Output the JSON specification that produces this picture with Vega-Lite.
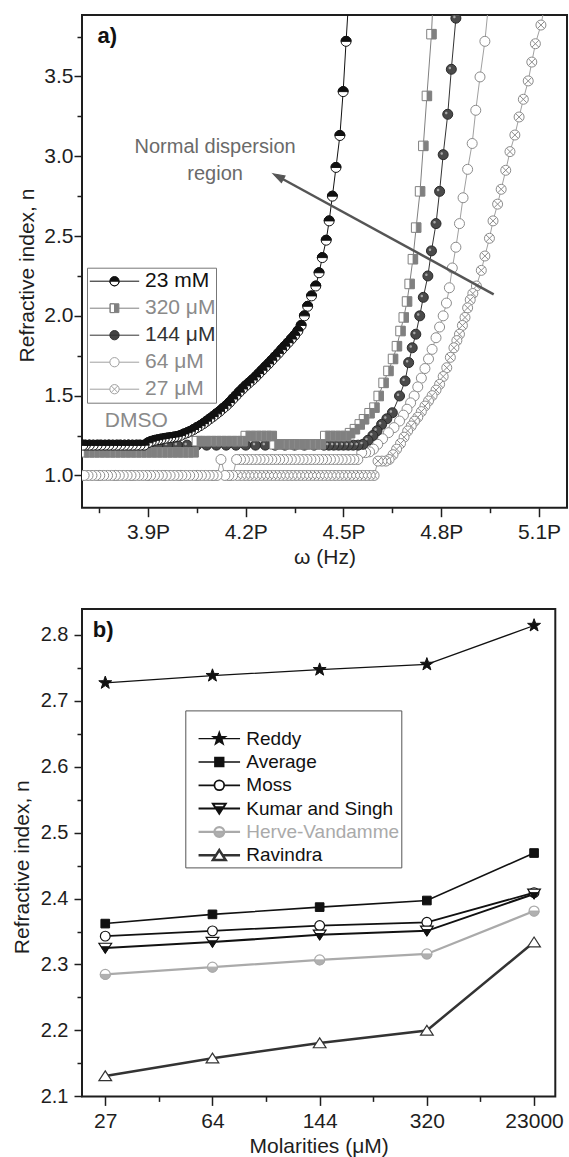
{
"$schema":"https://vega.github.io/schema/vega-lite/v6.json",
"background":"white",
"padding":{"left":10,"top":14,"right":0,"bottom":0},
"autosize":{"type":"pad"},
"config":{
 "font":"Liberation Sans",
 "view":{"stroke":"#1e1e1e","strokeWidth":2},
 "axis":{"labelFont":"Liberation Sans","titleFont":"Liberation Sans","labelFontSize":21,"titleFontSize":21,"titleFontWeight":"normal","labelColor":"#1e1e1e","titleColor":"#1e1e1e","tickColor":"#1e1e1e","tickWidth":1.5,"domain":false,"grid":false},
 "legend":{"labelFont":"Liberation Sans","titleFont":"Liberation Sans"}
},
"datasets":{
"A":[
{"s":"23 mM","w":4.518,"n":4.05},{"s":"23 mM","w":4.508,"n":3.72},{"s":"23 mM","w":4.499,"n":3.405},{"s":"23 mM","w":4.489,"n":3.13},{"s":"23 mM","w":4.477,"n":2.93},{"s":"23 mM","w":4.466,"n":2.75},{"s":"23 mM","w":4.456,"n":2.595},{"s":"23 mM","w":4.447,"n":2.474},{"s":"23 mM","w":4.435,"n":2.365},{"s":"23 mM","w":4.425,"n":2.27},{"s":"23 mM","w":4.415,"n":2.187},{"s":"23 mM","w":4.402,"n":2.125},{"s":"23 mM","w":4.39,"n":2.06},{"s":"23 mM","w":4.38,"n":2.0},{"s":"23 mM","w":4.37,"n":1.94},{"s":"23 mM","w":4.36,"n":1.905},{"s":"23 mM","w":4.35,"n":1.878},{"s":"23 mM","w":4.34,"n":1.855},{"s":"23 mM","w":4.33,"n":1.832},{"s":"23 mM","w":4.32,"n":1.81},{"s":"23 mM","w":4.31,"n":1.788},{"s":"23 mM","w":4.3,"n":1.765},{"s":"23 mM","w":4.29,"n":1.744},{"s":"23 mM","w":4.28,"n":1.722},{"s":"23 mM","w":4.27,"n":1.7},{"s":"23 mM","w":4.26,"n":1.68},{"s":"23 mM","w":4.25,"n":1.659},{"s":"23 mM","w":4.24,"n":1.638},{"s":"23 mM","w":4.23,"n":1.617},{"s":"23 mM","w":4.22,"n":1.598},{"s":"23 mM","w":4.21,"n":1.58},{"s":"23 mM","w":4.2,"n":1.562},{"s":"23 mM","w":4.19,"n":1.542},{"s":"23 mM","w":4.18,"n":1.522},{"s":"23 mM","w":4.17,"n":1.5},{"s":"23 mM","w":4.16,"n":1.479},{"s":"23 mM","w":4.15,"n":1.457},{"s":"23 mM","w":4.14,"n":1.437},{"s":"23 mM","w":4.13,"n":1.42},{"s":"23 mM","w":4.12,"n":1.402},{"s":"23 mM","w":4.11,"n":1.386},{"s":"23 mM","w":4.1,"n":1.37},{"s":"23 mM","w":4.09,"n":1.355},{"s":"23 mM","w":4.08,"n":1.34},{"s":"23 mM","w":4.07,"n":1.325},{"s":"23 mM","w":4.06,"n":1.312},{"s":"23 mM","w":4.05,"n":1.3},{"s":"23 mM","w":4.04,"n":1.288},{"s":"23 mM","w":4.03,"n":1.277},{"s":"23 mM","w":4.02,"n":1.268},{"s":"23 mM","w":4.01,"n":1.26},{"s":"23 mM","w":4.0,"n":1.251},{"s":"23 mM","w":3.99,"n":1.245},{"s":"23 mM","w":3.98,"n":1.241},{"s":"23 mM","w":3.97,"n":1.238},{"s":"23 mM","w":3.96,"n":1.235},{"s":"23 mM","w":3.95,"n":1.232},{"s":"23 mM","w":3.94,"n":1.228},{"s":"23 mM","w":3.93,"n":1.224},{"s":"23 mM","w":3.92,"n":1.22},{"s":"23 mM","w":3.91,"n":1.214},{"s":"23 mM","w":3.9,"n":1.205},{"s":"23 mM","w":3.888,"n":1.19},{"s":"23 mM","w":3.876,"n":1.19},{"s":"23 mM","w":3.864,"n":1.19},{"s":"23 mM","w":3.852,"n":1.19},{"s":"23 mM","w":3.84,"n":1.19},{"s":"23 mM","w":3.828,"n":1.19},{"s":"23 mM","w":3.816,"n":1.19},{"s":"23 mM","w":3.804,"n":1.19},{"s":"23 mM","w":3.792,"n":1.19},{"s":"23 mM","w":3.78,"n":1.19},{"s":"23 mM","w":3.768,"n":1.19},{"s":"23 mM","w":3.756,"n":1.19},{"s":"23 mM","w":3.744,"n":1.19},{"s":"23 mM","w":3.732,"n":1.19},{"s":"23 mM","w":3.72,"n":1.19},{"s":"23 mM","w":3.708,"n":1.19},{"s":"23 mM","w":3.7,"n":1.19},
{"s":"320 μM","w":4.78,"n":4.2},{"s":"320 μM","w":4.77,"n":3.765},{"s":"320 μM","w":4.756,"n":3.378},{"s":"320 μM","w":4.745,"n":3.065},{"s":"320 μM","w":4.735,"n":2.78},{"s":"320 μM","w":4.723,"n":2.553},{"s":"320 μM","w":4.713,"n":2.355},{"s":"320 μM","w":4.703,"n":2.2},{"s":"320 μM","w":4.695,"n":2.09},{"s":"320 μM","w":4.685,"n":1.99},{"s":"320 μM","w":4.675,"n":1.905},{"s":"320 μM","w":4.664,"n":1.81},{"s":"320 μM","w":4.652,"n":1.73},{"s":"320 μM","w":4.638,"n":1.655},{"s":"320 μM","w":4.623,"n":1.58},{"s":"320 μM","w":4.608,"n":1.498},{"s":"320 μM","w":4.595,"n":1.425},{"s":"320 μM","w":4.58,"n":1.39},{"s":"320 μM","w":4.563,"n":1.352},{"s":"320 μM","w":4.55,"n":1.32},{"s":"320 μM","w":4.535,"n":1.29},{"s":"320 μM","w":4.52,"n":1.265},
{"s":"320 μM","w":4.508,"n":1.247},{"s":"320 μM","w":4.492,"n":1.247},{"s":"320 μM","w":4.476,"n":1.247},{"s":"320 μM","w":4.46,"n":1.247},{"s":"320 μM","w":4.444,"n":1.247},
{"s":"320 μM","w":4.43,"n":1.195},{"s":"320 μM","w":4.414,"n":1.195},{"s":"320 μM","w":4.398,"n":1.195},{"s":"320 μM","w":4.382,"n":1.195},{"s":"320 μM","w":4.366,"n":1.195},{"s":"320 μM","w":4.35,"n":1.195},{"s":"320 μM","w":4.334,"n":1.195},{"s":"320 μM","w":4.318,"n":1.195},{"s":"320 μM","w":4.302,"n":1.195},{"s":"320 μM","w":4.288,"n":1.195},
{"s":"320 μM","w":4.28,"n":1.247},{"s":"320 μM","w":4.264,"n":1.247},{"s":"320 μM","w":4.248,"n":1.247},{"s":"320 μM","w":4.232,"n":1.247},{"s":"320 μM","w":4.216,"n":1.247},{"s":"320 μM","w":4.2,"n":1.247},
{"s":"320 μM","w":4.19,"n":1.215},{"s":"320 μM","w":4.174,"n":1.215},{"s":"320 μM","w":4.158,"n":1.215},{"s":"320 μM","w":4.142,"n":1.215},{"s":"320 μM","w":4.126,"n":1.215},{"s":"320 μM","w":4.11,"n":1.215},{"s":"320 μM","w":4.094,"n":1.215},{"s":"320 μM","w":4.078,"n":1.215},{"s":"320 μM","w":4.062,"n":1.215},{"s":"320 μM","w":4.05,"n":1.215},
{"s":"320 μM","w":4.04,"n":1.145},{"s":"320 μM","w":4.024,"n":1.145},{"s":"320 μM","w":4.008,"n":1.145},{"s":"320 μM","w":3.992,"n":1.145},{"s":"320 μM","w":3.976,"n":1.145},{"s":"320 μM","w":3.96,"n":1.145},{"s":"320 μM","w":3.944,"n":1.145},{"s":"320 μM","w":3.928,"n":1.145},{"s":"320 μM","w":3.912,"n":1.145},{"s":"320 μM","w":3.896,"n":1.145},{"s":"320 μM","w":3.88,"n":1.145},{"s":"320 μM","w":3.864,"n":1.145},{"s":"320 μM","w":3.848,"n":1.145},{"s":"320 μM","w":3.832,"n":1.145},{"s":"320 μM","w":3.816,"n":1.145},{"s":"320 μM","w":3.8,"n":1.145},{"s":"320 μM","w":3.784,"n":1.145},{"s":"320 μM","w":3.768,"n":1.145},{"s":"320 μM","w":3.752,"n":1.145},{"s":"320 μM","w":3.736,"n":1.145},{"s":"320 μM","w":3.72,"n":1.145},{"s":"320 μM","w":3.704,"n":1.145},
{"s":"144 μM","w":4.855,"n":4.2},{"s":"144 μM","w":4.845,"n":3.865},{"s":"144 μM","w":4.831,"n":3.545},{"s":"144 μM","w":4.82,"n":3.263},{"s":"144 μM","w":4.806,"n":3.01},{"s":"144 μM","w":4.795,"n":2.78},{"s":"144 μM","w":4.784,"n":2.578},{"s":"144 μM","w":4.77,"n":2.407},{"s":"144 μM","w":4.759,"n":2.25},{"s":"144 μM","w":4.745,"n":2.116},{"s":"144 μM","w":4.734,"n":2.0},{"s":"144 μM","w":4.722,"n":1.885},{"s":"144 μM","w":4.711,"n":1.8},{"s":"144 μM","w":4.7,"n":1.707},{"s":"144 μM","w":4.689,"n":1.592},{"s":"144 μM","w":4.672,"n":1.498},{"s":"144 μM","w":4.65,"n":1.393},{"s":"144 μM","w":4.633,"n":1.355},{"s":"144 μM","w":4.617,"n":1.32},{"s":"144 μM","w":4.603,"n":1.28},{"s":"144 μM","w":4.59,"n":1.25},{"s":"144 μM","w":4.575,"n":1.22},{"s":"144 μM","w":4.56,"n":1.195},
{"s":"144 μM","w":4.545,"n":1.19},{"s":"144 μM","w":4.53,"n":1.19},{"s":"144 μM","w":4.515,"n":1.19},{"s":"144 μM","w":4.5,"n":1.19},{"s":"144 μM","w":4.485,"n":1.19},{"s":"144 μM","w":4.47,"n":1.19},{"s":"144 μM","w":4.455,"n":1.19},{"s":"144 μM","w":4.44,"n":1.19},{"s":"144 μM","w":4.41,"n":1.19},{"s":"144 μM","w":4.38,"n":1.19},{"s":"144 μM","w":4.35,"n":1.19},{"s":"144 μM","w":4.32,"n":1.19},{"s":"144 μM","w":4.29,"n":1.19},{"s":"144 μM","w":4.26,"n":1.19},{"s":"144 μM","w":4.23,"n":1.19},{"s":"144 μM","w":4.2,"n":1.19},{"s":"144 μM","w":4.17,"n":1.19},{"s":"144 μM","w":4.14,"n":1.19},{"s":"144 μM","w":4.11,"n":1.19},{"s":"144 μM","w":4.08,"n":1.19},{"s":"144 μM","w":4.05,"n":1.19},{"s":"144 μM","w":4.02,"n":1.19},{"s":"144 μM","w":3.99,"n":1.19},{"s":"144 μM","w":3.96,"n":1.19},{"s":"144 μM","w":3.93,"n":1.19},{"s":"144 μM","w":3.9,"n":1.19},{"s":"144 μM","w":3.87,"n":1.19},{"s":"144 μM","w":3.84,"n":1.19},{"s":"144 μM","w":3.81,"n":1.19},{"s":"144 μM","w":3.78,"n":1.19},{"s":"144 μM","w":3.75,"n":1.19},{"s":"144 μM","w":3.72,"n":1.19},{"s":"144 μM","w":3.7,"n":1.19},
{"s":"64 μM","w":4.945,"n":3.95},{"s":"64 μM","w":4.934,"n":3.72},{"s":"64 μM","w":4.919,"n":3.497},{"s":"64 μM","w":4.906,"n":3.288},{"s":"64 μM","w":4.895,"n":3.08},{"s":"64 μM","w":4.881,"n":2.918},{"s":"64 μM","w":4.867,"n":2.74},{"s":"64 μM","w":4.856,"n":2.578},{"s":"64 μM","w":4.845,"n":2.43},{"s":"64 μM","w":4.834,"n":2.3},{"s":"64 μM","w":4.825,"n":2.176},{"s":"64 μM","w":4.816,"n":2.08},{"s":"64 μM","w":4.806,"n":2.0},{"s":"64 μM","w":4.795,"n":1.93},{"s":"64 μM","w":4.784,"n":1.863},{"s":"64 μM","w":4.772,"n":1.79},{"s":"64 μM","w":4.761,"n":1.73},{"s":"64 μM","w":4.75,"n":1.67},{"s":"64 μM","w":4.739,"n":1.61},{"s":"64 μM","w":4.728,"n":1.555},{"s":"64 μM","w":4.717,"n":1.498},{"s":"64 μM","w":4.706,"n":1.455},{"s":"64 μM","w":4.695,"n":1.415},{"s":"64 μM","w":4.684,"n":1.378},{"s":"64 μM","w":4.672,"n":1.341},{"s":"64 μM","w":4.655,"n":1.3},{"s":"64 μM","w":4.638,"n":1.268},{"s":"64 μM","w":4.62,"n":1.23},{"s":"64 μM","w":4.605,"n":1.195},{"s":"64 μM","w":4.592,"n":1.165},{"s":"64 μM","w":4.58,"n":1.148},{"s":"64 μM","w":4.568,"n":1.143},{"s":"64 μM","w":4.556,"n":1.143},
{"s":"64 μM","w":4.544,"n":1.1},{"s":"64 μM","w":4.532,"n":1.1},{"s":"64 μM","w":4.52,"n":1.1},{"s":"64 μM","w":4.508,"n":1.1},{"s":"64 μM","w":4.496,"n":1.1},{"s":"64 μM","w":4.484,"n":1.1},{"s":"64 μM","w":4.472,"n":1.1},{"s":"64 μM","w":4.46,"n":1.1},{"s":"64 μM","w":4.448,"n":1.1},{"s":"64 μM","w":4.436,"n":1.1},{"s":"64 μM","w":4.424,"n":1.1},{"s":"64 μM","w":4.412,"n":1.1},{"s":"64 μM","w":4.4,"n":1.1},{"s":"64 μM","w":4.388,"n":1.1},{"s":"64 μM","w":4.376,"n":1.1},{"s":"64 μM","w":4.364,"n":1.1},{"s":"64 μM","w":4.352,"n":1.1},{"s":"64 μM","w":4.34,"n":1.1},{"s":"64 μM","w":4.328,"n":1.1},{"s":"64 μM","w":4.316,"n":1.1},{"s":"64 μM","w":4.304,"n":1.1},{"s":"64 μM","w":4.292,"n":1.1},{"s":"64 μM","w":4.28,"n":1.1},{"s":"64 μM","w":4.268,"n":1.1},{"s":"64 μM","w":4.256,"n":1.1},{"s":"64 μM","w":4.244,"n":1.1},{"s":"64 μM","w":4.232,"n":1.1},{"s":"64 μM","w":4.22,"n":1.1},{"s":"64 μM","w":4.208,"n":1.1},{"s":"64 μM","w":4.196,"n":1.1},{"s":"64 μM","w":4.184,"n":1.1},{"s":"64 μM","w":4.172,"n":1.1},
{"s":"64 μM","w":4.16,"n":1.0},{"s":"64 μM","w":4.148,"n":1.0},{"s":"64 μM","w":4.136,"n":1.0},{"s":"64 μM","w":4.124,"n":1.1},
{"s":"64 μM","w":4.112,"n":1.0},{"s":"64 μM","w":4.1,"n":1.0},{"s":"64 μM","w":4.088,"n":1.0},{"s":"64 μM","w":4.076,"n":1.0},{"s":"64 μM","w":4.064,"n":1.0},{"s":"64 μM","w":4.052,"n":1.0},{"s":"64 μM","w":4.04,"n":1.0},{"s":"64 μM","w":4.028,"n":1.0},{"s":"64 μM","w":4.016,"n":1.0},{"s":"64 μM","w":4.004,"n":1.0},{"s":"64 μM","w":3.992,"n":1.0},{"s":"64 μM","w":3.98,"n":1.0},{"s":"64 μM","w":3.968,"n":1.0},{"s":"64 μM","w":3.956,"n":1.0},{"s":"64 μM","w":3.944,"n":1.0},{"s":"64 μM","w":3.932,"n":1.0},{"s":"64 μM","w":3.92,"n":1.0},{"s":"64 μM","w":3.908,"n":1.0},{"s":"64 μM","w":3.896,"n":1.0},{"s":"64 μM","w":3.884,"n":1.0},{"s":"64 μM","w":3.872,"n":1.0},{"s":"64 μM","w":3.86,"n":1.0},{"s":"64 μM","w":3.848,"n":1.0},{"s":"64 μM","w":3.836,"n":1.0},{"s":"64 μM","w":3.824,"n":1.0},{"s":"64 μM","w":3.812,"n":1.0},{"s":"64 μM","w":3.8,"n":1.0},{"s":"64 μM","w":3.788,"n":1.0},{"s":"64 μM","w":3.776,"n":1.0},{"s":"64 μM","w":3.764,"n":1.0},{"s":"64 μM","w":3.752,"n":1.0},{"s":"64 μM","w":3.74,"n":1.0},{"s":"64 μM","w":3.728,"n":1.0},{"s":"64 μM","w":3.716,"n":1.0},{"s":"64 μM","w":3.704,"n":1.0},
{"s":"27 μM","w":5.118,"n":3.95},{"s":"27 μM","w":5.106,"n":3.822},{"s":"27 μM","w":5.089,"n":3.705},{"s":"27 μM","w":5.078,"n":3.59},{"s":"27 μM","w":5.067,"n":3.472},{"s":"27 μM","w":5.052,"n":3.357},{"s":"27 μM","w":5.039,"n":3.246},{"s":"27 μM","w":5.026,"n":3.133},{"s":"27 μM","w":5.011,"n":3.029},{"s":"27 μM","w":4.998,"n":2.912},{"s":"27 μM","w":4.984,"n":2.793},{"s":"27 μM","w":4.973,"n":2.7},{"s":"27 μM","w":4.959,"n":2.595},{"s":"27 μM","w":4.948,"n":2.486},{"s":"27 μM","w":4.934,"n":2.375},{"s":"27 μM","w":4.923,"n":2.285},{"s":"27 μM","w":4.908,"n":2.187},{"s":"27 μM","w":4.897,"n":2.14},{"s":"27 μM","w":4.889,"n":2.1},{"s":"27 μM","w":4.881,"n":2.05},{"s":"27 μM","w":4.873,"n":1.99},{"s":"27 μM","w":4.865,"n":1.94},{"s":"27 μM","w":4.856,"n":1.885},{"s":"27 μM","w":4.848,"n":1.845},{"s":"27 μM","w":4.839,"n":1.8},{"s":"27 μM","w":4.828,"n":1.74},{"s":"27 μM","w":4.817,"n":1.675},{"s":"27 μM","w":4.806,"n":1.62},{"s":"27 μM","w":4.795,"n":1.571},{"s":"27 μM","w":4.784,"n":1.535},{"s":"27 μM","w":4.772,"n":1.5},{"s":"27 μM","w":4.761,"n":1.467},{"s":"27 μM","w":4.75,"n":1.435},{"s":"27 μM","w":4.739,"n":1.4},{"s":"27 μM","w":4.728,"n":1.365},{"s":"27 μM","w":4.718,"n":1.34},{"s":"27 μM","w":4.708,"n":1.31},{"s":"27 μM","w":4.697,"n":1.279},{"s":"27 μM","w":4.686,"n":1.24},{"s":"27 μM","w":4.675,"n":1.2},{"s":"27 μM","w":4.663,"n":1.165},{"s":"27 μM","w":4.652,"n":1.13},{"s":"27 μM","w":4.64,"n":1.1},{"s":"27 μM","w":4.63,"n":1.09},{"s":"27 μM","w":4.618,"n":1.09},{"s":"27 μM","w":4.606,"n":1.09},
{"s":"27 μM","w":4.594,"n":1.0},{"s":"27 μM","w":4.582,"n":1.0},{"s":"27 μM","w":4.57,"n":1.0},{"s":"27 μM","w":4.558,"n":1.0},{"s":"27 μM","w":4.546,"n":1.0},{"s":"27 μM","w":4.534,"n":1.0},{"s":"27 μM","w":4.522,"n":1.0},{"s":"27 μM","w":4.51,"n":1.0},{"s":"27 μM","w":4.498,"n":1.0},{"s":"27 μM","w":4.486,"n":1.0},{"s":"27 μM","w":4.474,"n":1.0},{"s":"27 μM","w":4.462,"n":1.0},{"s":"27 μM","w":4.45,"n":1.0},{"s":"27 μM","w":4.438,"n":1.0},{"s":"27 μM","w":4.426,"n":1.0},{"s":"27 μM","w":4.414,"n":1.0},{"s":"27 μM","w":4.402,"n":1.0},{"s":"27 μM","w":4.39,"n":1.0},{"s":"27 μM","w":4.378,"n":1.0},{"s":"27 μM","w":4.366,"n":1.0},{"s":"27 μM","w":4.354,"n":1.0},{"s":"27 μM","w":4.342,"n":1.0},{"s":"27 μM","w":4.33,"n":1.0},{"s":"27 μM","w":4.318,"n":1.0},{"s":"27 μM","w":4.306,"n":1.0},{"s":"27 μM","w":4.294,"n":1.0},{"s":"27 μM","w":4.282,"n":1.0},{"s":"27 μM","w":4.27,"n":1.0},{"s":"27 μM","w":4.258,"n":1.0},{"s":"27 μM","w":4.246,"n":1.0},{"s":"27 μM","w":4.234,"n":1.0},{"s":"27 μM","w":4.222,"n":1.0},{"s":"27 μM","w":4.21,"n":1.0},{"s":"27 μM","w":4.198,"n":1.0},{"s":"27 μM","w":4.186,"n":1.0},{"s":"27 μM","w":4.174,"n":1.0},{"s":"27 μM","w":4.15,"n":1.0},{"s":"27 μM","w":4.1,"n":1.0},{"s":"27 μM","w":4.05,"n":1.0},{"s":"27 μM","w":4.0,"n":1.0},{"s":"27 μM","w":3.95,"n":1.0},{"s":"27 μM","w":3.9,"n":1.0},{"s":"27 μM","w":3.85,"n":1.0},{"s":"27 μM","w":3.8,"n":1.0},{"s":"27 μM","w":3.75,"n":1.0},{"s":"27 μM","w":3.7,"n":1.0}
],
"B":[
{"method":"Reddy","i":0,"n":2.727},{"method":"Reddy","i":1,"n":2.738},{"method":"Reddy","i":2,"n":2.747},{"method":"Reddy","i":3,"n":2.755},{"method":"Reddy","i":4,"n":2.814},
{"method":"Average","i":0,"n":2.362},{"method":"Average","i":1,"n":2.376},{"method":"Average","i":2,"n":2.387},{"method":"Average","i":3,"n":2.397},{"method":"Average","i":4,"n":2.469},
{"method":"Moss","i":0,"n":2.343},{"method":"Moss","i":1,"n":2.351},{"method":"Moss","i":2,"n":2.359},{"method":"Moss","i":3,"n":2.364},{"method":"Moss","i":4,"n":2.409},
{"method":"Kumar and Singh","i":0,"n":2.325},{"method":"Kumar and Singh","i":1,"n":2.334},{"method":"Kumar and Singh","i":2,"n":2.345},{"method":"Kumar and Singh","i":3,"n":2.351},{"method":"Kumar and Singh","i":4,"n":2.407},
{"method":"Herve-Vandamme","i":0,"n":2.285},{"method":"Herve-Vandamme","i":1,"n":2.296},{"method":"Herve-Vandamme","i":2,"n":2.307},{"method":"Herve-Vandamme","i":3,"n":2.316},{"method":"Herve-Vandamme","i":4,"n":2.381},
{"method":"Ravindra","i":0,"n":2.131},{"method":"Ravindra","i":1,"n":2.158},{"method":"Ravindra","i":2,"n":2.181},{"method":"Ravindra","i":3,"n":2.2},{"method":"Ravindra","i":4,"n":2.334}
]
},
"columns":1,
"align":"none",
"spacing":39,
"resolve":{"scale":{"stroke":"independent","strokeWidth":"independent"},"legend":{"stroke":"independent","strokeWidth":"independent"}},
"concat":[
{
 "width":485,"height":492.7,
 "layer":[
  {
   "data":{"values":[{"w":4.0,"n":2.0}]},
   "mark":{"type":"point","opacity":0},
   "encoding":{
    "x":{"field":"w","type":"quantitative","scale":{"domain":[3.6975,5.186],"nice":false,"zero":false},"axis":{"orient":"bottom","values":[3.75,4.05,4.35,4.65,4.95],"labels":false,"tickSize":5,"title":null}},
    "y":{"field":"n","type":"quantitative","scale":{"domain":[0.798,3.885],"nice":false,"zero":false},"axis":{"orient":"left","values":[1.25,1.75,2.25,2.75,3.25,3.75],"labels":false,"tickSize":5,"title":null}}
   }
  },
  {
   "data":{"name":"A"},
   "encoding":{
    "x":{"field":"w","type":"quantitative","scale":{"domain":[3.6975,5.186],"nice":false,"zero":false},"axis":{"orient":"bottom","values":[3.9,4.2,4.5,4.8,5.1],"labelExpr":"format(datum.value,'.1f')+'P'","title":"ω (Hz)","tickSize":9,"labelPadding":5,"titlePadding":4,"labelFlush":false,"labelOverlap":false}},
    "y":{"field":"n","type":"quantitative","scale":{"domain":[0.798,3.885],"nice":false,"zero":false},"axis":{"orient":"left","values":[1,1.5,2,2.5,3,3.5],"format":".1f","title":"Refractive index, n","tickSize":8,"labelPadding":1,"titlePadding":6,"titleY":260}}
   },
   "layer":[
    {
     "mark":{"type":"line","clip":true,"strokeWidth":1},
     "encoding":{
      "stroke":{"field":"s","type":"nominal","scale":{"domain":["23 mM","320 μM","144 μM","64 μM","27 μM"],"range":["#111111","#808080","#333333","#a0a0a0","#a0a0a0"]},
       "legend":{"orient":"none","legendX":5,"legendY":252.7,"title":null,"symbolSize":2852,"clipHeight":27,"rowPadding":0,"padding":0,"labelFontSize":21,"labelOffset":3,"strokeColor":"#777777","symbolStrokeWidth":1,
        "encode":{
         "symbols":{"update":{
          "shape":{"signal":"datum.value==='23 mM'?'M-0.925,0L-0.174,0M0.174,0L0.925,0M-0.174,0A0.174,0.174 0 0,1 0.174,0ZM-0.174,0A0.174,0.174 0 0,0 0.174,0A0.174,0.174 0 0,1 -0.174,0':datum.value==='320 μM'?'M-0.925,0L-0.165,0M0.165,0L0.925,0M0,-0.165L-0.165,-0.165L-0.165,0.165L0,0.165L-0.165,0.165L-0.165,-0.165ZM0,-0.165L0.165,-0.165L0.165,0.165L0,0.165Z':datum.value==='144 μM'?'M-0.925,0L0.925,0M-0.174,0A0.174,0.174 0 1,1 0.174,0A0.174,0.174 0 1,1 -0.174,0Z':datum.value==='64 μM'?'M-0.925,0L-0.174,0M0.174,0L0.925,0M-0.174,0A0.174,0.174 0 1,1 0.174,0A0.174,0.174 0 1,1 -0.174,0Z':'M-0.925,0L-0.174,0M0.174,0L0.925,0M-0.174,0A0.174,0.174 0 1,1 0.174,0A0.174,0.174 0 1,1 -0.174,0ZM-0.123,-0.123L0.123,0.123M-0.123,0.123L0.123,-0.123'"},
          "fill":{"signal":"datum.value==='23 mM'?'#111111':datum.value==='320 μM'?'#808080':datum.value==='144 μM'?'#444444':'#ffffff'"},
          "stroke":{"signal":"datum.value==='23 mM'?'#111111':datum.value==='320 μM'?'#808080':datum.value==='144 μM'?'#333333':'#999999'"},
          "strokeWidth":{"value":1},
          "opacity":{"value":1}
         }},
         "labels":{"update":{"fill":{"signal":"datum.value==='23 mM'?'#111111':datum.value==='144 μM'?'#333333':'#8a8a8a'"}}}
        }
       }
      }
     }
    },
    {"transform":[{"filter":"datum.s==='27 μM'"}],"mark":{"type":"point","clip":true,"filled":true,"opacity":1,"shape":"M1,0A1,1 0 1,1 -1,0A1,1 0 1,1 1,0ZM-0.707,-0.707L0.707,0.707M-0.707,0.707L0.707,-0.707","fill":"#ffffff","stroke":"#8c8c8c","strokeWidth":1,"size":100}},
    {"transform":[{"filter":"datum.s==='64 μM'"}],"mark":{"type":"point","clip":true,"filled":true,"opacity":1,"shape":"circle","fill":"#ffffff","stroke":"#8c8c8c","strokeWidth":1,"size":100}},
    {"transform":[{"filter":"datum.s==='144 μM'"}],"mark":{"type":"point","clip":true,"filled":true,"opacity":1,"shape":"circle","fill":"#4a4a4a","stroke":"#2a2a2a","strokeWidth":1,"size":100}},
    {"transform":[{"filter":"datum.s==='144 μM'"}],"mark":{"type":"point","clip":true,"filled":true,"opacity":1,"shape":"M-0.55,-0.25A0.25,0.25 0 1,1 -0.05,-0.25A0.25,0.25 0 1,1 -0.55,-0.25Z","fill":"#a8a8a8","strokeWidth":0,"size":100}},
    {"transform":[{"filter":"datum.s==='320 μM'"}],"mark":{"type":"point","clip":true,"filled":true,"opacity":1,"shape":"square","fill":"#ffffff","stroke":"#808080","strokeWidth":1,"size":90}},
    {"transform":[{"filter":"datum.s==='320 μM'"}],"mark":{"type":"point","clip":true,"filled":true,"opacity":1,"shape":"M0,-1L1,-1L1,1L0,1Z","fill":"#808080","stroke":"#808080","strokeWidth":0.5,"size":90}},
    {"transform":[{"filter":"datum.s==='23 mM'"}],"mark":{"type":"point","clip":true,"filled":true,"opacity":1,"shape":"circle","fill":"#ffffff","stroke":"#111111","strokeWidth":1,"size":100}},
    {"transform":[{"filter":"datum.s==='23 mM'"}],"mark":{"type":"point","clip":true,"filled":true,"opacity":1,"shape":"M-1,0A1,1 0 0,1 1,0Z","fill":"#111111","stroke":"#111111","strokeWidth":1,"size":100}},
    {"data":{"values":[{"w":4.961,"n":2.135},{"w":4.302,"n":2.87}]},"mark":{"type":"line","color":"#555555","strokeWidth":2.5},"encoding":{}},
    {"data":{"values":[{"w":4.302,"n":2.87}]},"mark":{"type":"point","filled":true,"opacity":1,"shape":"M0,-1L0.55,0.7L-0.55,0.7Z","fill":"#555555","stroke":"#555555","strokeWidth":1,"size":196,"angle":298.6}},
    {"data":{"values":[{"t":"Normal dispersion","w":4.106,"n":3.058},{"t":"region","w":4.106,"n":2.891}]},"mark":{"type":"text","font":"Liberation Sans","fontSize":20,"color":"#6a6a6a","baseline":"middle","align":"center"},"encoding":{"text":{"field":"t"}}},
    {"data":{"values":[{"t":"a)","w":3.775,"n":3.751}]},"mark":{"type":"text","font":"Liberation Sans","fontSize":22,"fontWeight":"bold","color":"#111111","baseline":"middle","align":"center"},"encoding":{"text":{"field":"t"}}},
    {"data":{"values":[{"t":"DMSO","w":3.864,"n":1.34}]},"mark":{"type":"text","font":"Liberation Sans","fontSize":21,"color":"#8a8a8a","baseline":"middle","align":"center"},"encoding":{"text":{"field":"t"}}}
   ]
  }
 ],
 "resolve":{"axis":{"x":"independent","y":"independent"}}
},
{
 "width":473.3,"height":487.4,
 "layer":[
  {
   "data":{"values":[{"i":1,"n":2.5}]},
   "mark":{"type":"point","opacity":0},
   "encoding":{
    "x":{"field":"i","type":"quantitative","scale":{"domain":[-0.217,4.198],"nice":false,"zero":false},"axis":{"orient":"bottom","values":[0.5,1.5,2.5,3.5],"labels":false,"tickSize":5,"title":null}},
    "y":{"field":"n","type":"quantitative","scale":{"domain":[2.1,2.839],"nice":false,"zero":false},"axis":{"orient":"left","values":[2.15,2.25,2.35,2.45,2.55,2.65,2.75],"labels":false,"tickSize":5,"title":null}}
   }
  },
  {
   "data":{"name":"B"},
   "encoding":{
    "x":{"field":"i","type":"quantitative","scale":{"domain":[-0.217,4.198],"nice":false,"zero":false},"axis":{"orient":"bottom","values":[0,1,2,3,4],"labelExpr":"datum.value==0?'27':datum.value==1?'64':datum.value==2?'144':datum.value==3?'320':'23000'","title":"Molarities (μM)","tickSize":9,"labelPadding":5,"titlePadding":4,"labelFlush":false,"labelOverlap":false}},
    "y":{"field":"n","type":"quantitative","scale":{"domain":[2.1,2.839],"nice":false,"zero":false},"axis":{"orient":"left","values":[2.1,2.2,2.3,2.4,2.5,2.6,2.7,2.8],"format":".1f","title":"Refractive index, n","tickSize":8,"labelPadding":6,"titlePadding":8,"labelFontSize":20,"titleY":257.7}}
   },
   "layer":[
    {
     "mark":{"type":"line"},
     "encoding":{
      "stroke":{"field":"method","type":"nominal","scale":{"domain":["Reddy","Average","Moss","Kumar and Singh","Herve-Vandamme","Ravindra"],"range":["#111111","#111111","#111111","#111111","#aaaaaa","#333333"]},
       "legend":{"orient":"none","legendX":103.3,"legendY":101.4,"title":" ","titleFontSize":12,"titlePadding":4.3,"symbolSize":3782,"clipHeight":20,"rowPadding":3.3,"padding":2,"labelFontSize":19,"labelOffset":-5,"strokeColor":"#555555",
        "encode":{
         "symbols":{"update":{
          "shape":{"signal":"datum.value==='Reddy'?'M-0.675,0L0.675,0M0,-0.221L0.052,-0.0716L0.21,-0.0683L0.0842,0.0273L0.13,0.179L0,0.0885L-0.13,0.179L-0.0842,0.0273L-0.21,-0.0683L-0.052,-0.0716Z':datum.value==='Average'?'M-0.675,0L0.675,0M-0.143,-0.143L0.143,-0.143L0.143,0.143L-0.143,0.143Z':datum.value==='Moss'?'M-0.675,0L-0.159,0M0.159,0L0.675,0M-0.159,0A0.159,0.159 0 1,1 0.159,0A0.159,0.159 0 1,1 -0.159,0Z':datum.value==='Kumar and Singh'?'M-0.675,0L0.675,0M-0.133,-0.0413L-0.2065,-0.155L0.2065,-0.155L0.133,-0.0413L0.2065,-0.155L-0.2065,-0.155ZM-0.133,-0.0413L0.133,-0.0413L0,0.165Z':datum.value==='Herve-Vandamme'?'M-0.675,0L-0.159,0M0.159,0L0.675,0M-0.159,0A0.159,0.159 0 0,1 0.159,0A0.159,0.159 0 0,0 -0.159,0M-0.159,0A0.159,0.159 0 0,0 0.159,0Z':'M-0.675,0L-0.1065,0M0.1065,0L0.675,0M0,-0.165L0.2065,0.155L-0.2065,0.155Z'"},
          "fill":{"signal":"datum.value==='Herve-Vandamme'?'#b0b0b0':datum.value==='Moss'||datum.value==='Ravindra'?'#ffffff':'#111111'"},
          "stroke":{"signal":"datum.value==='Herve-Vandamme'?'#aaaaaa':datum.value==='Ravindra'?'#333333':'#111111'"},
          "strokeWidth":{"signal":"datum.value==='Average'?2.5:1.3"},
          "opacity":{"value":1}
         }},
         "labels":{"update":{"fill":{"signal":"datum.value==='Herve-Vandamme'?'#aaaaaa':'#111111'"}}}
        }
       }
      },
      "strokeWidth":{"field":"method","type":"nominal","scale":{"domain":["Reddy","Average","Moss","Kumar and Singh","Herve-Vandamme","Ravindra"],"range":[1.3,2.5,1.3,1.3,1.5,1]},"legend":null}
     }
    },
    {"transform":[{"filter":"datum.method==='Reddy'"}],"mark":{"type":"point","filled":true,"opacity":1,"shape":"M0,-1L0.235,-0.324L0.951,-0.309L0.38,0.124L0.588,0.809L0,0.4L-0.588,0.809L-0.38,0.124L-0.951,-0.309L-0.235,-0.324Z","fill":"#111111","stroke":"#111111","strokeWidth":1,"size":185}},
    {"transform":[{"filter":"datum.method==='Average'"}],"mark":{"type":"point","filled":true,"opacity":1,"shape":"square","fill":"#111111","stroke":"#111111","strokeWidth":1,"size":75}},
    {"transform":[{"filter":"datum.method==='Moss'"}],"mark":{"type":"point","filled":true,"opacity":1,"shape":"circle","fill":"#ffffff","stroke":"#111111","strokeWidth":1.2,"size":95}},
    {"transform":[{"filter":"datum.method==='Kumar and Singh'"}],"mark":{"type":"point","filled":true,"opacity":1,"shape":"M-1,-0.75L1,-0.75L0,0.8Z","fill":"#ffffff","stroke":"#111111","strokeWidth":1.2,"size":161}},
    {"transform":[{"filter":"datum.method==='Kumar and Singh'"}],"mark":{"type":"point","filled":true,"opacity":1,"shape":"M-0.645,-0.2L0.645,-0.2L0,0.8Z","fill":"#111111","stroke":"#111111","strokeWidth":1,"size":161}},
    {"transform":[{"filter":"datum.method==='Herve-Vandamme'"}],"mark":{"type":"point","filled":true,"opacity":1,"shape":"circle","fill":"#ffffff","stroke":"#aaaaaa","strokeWidth":1.2,"size":100}},
    {"transform":[{"filter":"datum.method==='Herve-Vandamme'"}],"mark":{"type":"point","filled":true,"opacity":1,"shape":"M-1,0A1,1 0 0,0 1,0Z","fill":"#b0b0b0","stroke":"#aaaaaa","strokeWidth":1,"size":100}},
    {"transform":[{"filter":"datum.method==='Ravindra'"}],"mark":{"type":"point","filled":true,"opacity":1,"shape":"M0,-0.8L1,0.75L-1,0.75Z","fill":"#ffffff","stroke":"#333333","strokeWidth":1.2,"size":161}},
    {"data":{"values":[{"t":"b)","i":-0.02,"n":2.8065}]},"mark":{"type":"text","font":"Liberation Sans","fontSize":22,"fontWeight":"bold","color":"#111111","baseline":"middle","align":"center"},"encoding":{"text":{"field":"t"}}}
   ]
  }
 ],
 "resolve":{"axis":{"x":"independent","y":"independent"}}
}
]
}
